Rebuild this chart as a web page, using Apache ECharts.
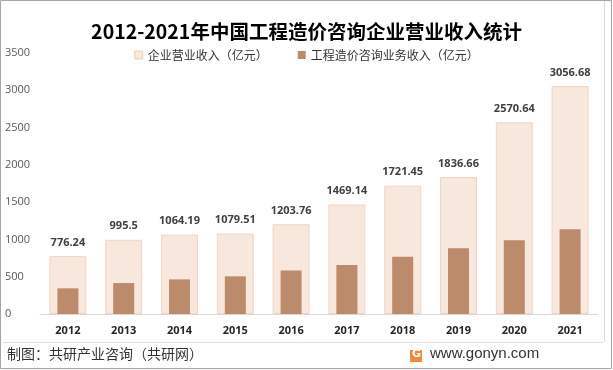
<!DOCTYPE html>
<html>
<head>
<meta charset="utf-8">
<script src="https://cdn.jsdelivr.net/npm/echarts@6/dist/echarts.min.js"></script>
<style>
html,body{margin:0;padding:0;background:#fff;}
#main{width:613px;height:370px;}
</style>
</head>
<body>
<div id="main"></div>
<script>
const categories = ['2012','2013','2014','2015','2016','2017','2018','2019','2020','2021'];
const revenueTotal = [776.24, 995.5, 1064.19, 1079.51, 1203.76, 1469.14, 1721.45, 1836.66, 2570.64, 3056.68];
const revenueConsulting = [344, 415, 464, 505, 585, 656, 767, 883, 990, 1138];
const yTicks = [0, 500, 1000, 1500, 2000, 2500, 3000, 3500];

const chart = echarts.init(document.getElementById('main'));
const fontCJK = '"Microsoft YaHei","Noto Sans CJK SC","DejaVu Sans",sans-serif';
const fontNum = '"Open Sans","Liberation Sans",sans-serif';

chart.setOption({
  animation: false,
  backgroundColor: '#ffffff',
  title: {
    text: '2012-2021年中国工程造价咨询企业营业收入统计',
    left: 'center',
    top: 17,
    textStyle: { fontFamily: fontCJK, fontSize: 19.5, fontWeight: 'bold', color: '#000000' }
  },
  legend: {
    top: 44,
    left: 'center',
    itemWidth: 8,
    itemHeight: 8,
    itemGap: 30,
    textStyle: { fontFamily: fontCJK, fontSize: 12, color: '#333333' },
    data: [
      { name: '企业营业收入（亿元）', icon: 'rect', itemStyle: { color: '#f8e7dc', borderColor: '#eccdb5', borderWidth: 1 } },
      { name: '工程造价咨询业务收入（亿元）', icon: 'rect', itemStyle: { color: '#bb8b6b' } }
    ]
  },
  grid: { left: 40, right: 15, top: 53, bottom: 56 },
  xAxis: [
    {
      type: 'category',
      data: categories,
      axisLine: { lineStyle: { color: '#d9d9d9' } },
      axisTick: { show: false },
      axisLabel: { fontFamily: fontNum, fontSize: 11, fontWeight: 'bold', color: '#262626', margin: 11 }
    },
    {
      type: 'category',
      data: categories,
      show: false,
      position: 'bottom'
    }
  ],
  yAxis: {
    type: 'value',
    min: yTicks[0],
    max: yTicks[yTicks.length - 1],
    interval: 500,
    axisLine: { show: false },
    axisTick: { show: false },
    splitLine: { show: false },
    axisLabel: { align: 'left', margin: 35, fontFamily: fontNum, fontSize: 11, color: '#595959', formatter: function (v) { return String(v); } }
  },
  series: [
    {
      name: '企业营业收入（亿元）',
      type: 'bar',
      xAxisIndex: 0,
      data: revenueTotal,
      barWidth: 37,
      itemStyle: { color: '#f8e7dc', borderColor: '#f0d6c2', borderWidth: 1 },
      label: {
        show: true,
        position: 'top',
        distance: 8,
        fontFamily: fontNum,
        fontSize: 11,
        fontWeight: 'bold',
        color: '#404040',
        formatter: function (p) { return String(p.value); }
      }
    },
    {
      name: '工程造价咨询业务收入（亿元）',
      type: 'bar',
      xAxisIndex: 1,
      data: revenueConsulting,
      barWidth: 21,
      itemStyle: { color: '#bb8b6b' }
    }
  ],
  graphic: [
    { type: 'rect', shape: { x: 0.5, y: 0.5, width: 611, height: 368 }, style: { fill: 'none', stroke: '#a6a6a6', lineWidth: 1 }, silent: true },
    { type: 'line', shape: { x1: 3, y1: 342.5, x2: 604, y2: 342.5 }, style: { stroke: '#e0e0e0', lineWidth: 1 }, silent: true },
    { type: 'line', shape: { x1: 604.5, y1: 1, x2: 604.5, y2: 342 }, style: { stroke: '#d9d9d9', lineWidth: 1 }, silent: true },
    { type: 'text', left: 7, top: 347, style: { text: '制图：共研产业咨询（共研网）', font: '14px "Noto Sans CJK SC", sans-serif', fill: '#333333' } },
    { type: 'rect', shape: { x: 410, y: 350, width: 12, height: 12 }, style: { fill: '#f08a3c' }, silent: true },
    { type: 'text', left: 412, top: 349, style: { text: 'G', font: 'bold 11px "DejaVu Sans", sans-serif', fill: '#ffffff' } },
    { type: 'text', left: 430, top: 346, style: { text: 'www.gonyn.com', font: '15px "Liberation Sans", sans-serif', fill: '#333333' } }
  ]
});
</script>
</body>
</html>
